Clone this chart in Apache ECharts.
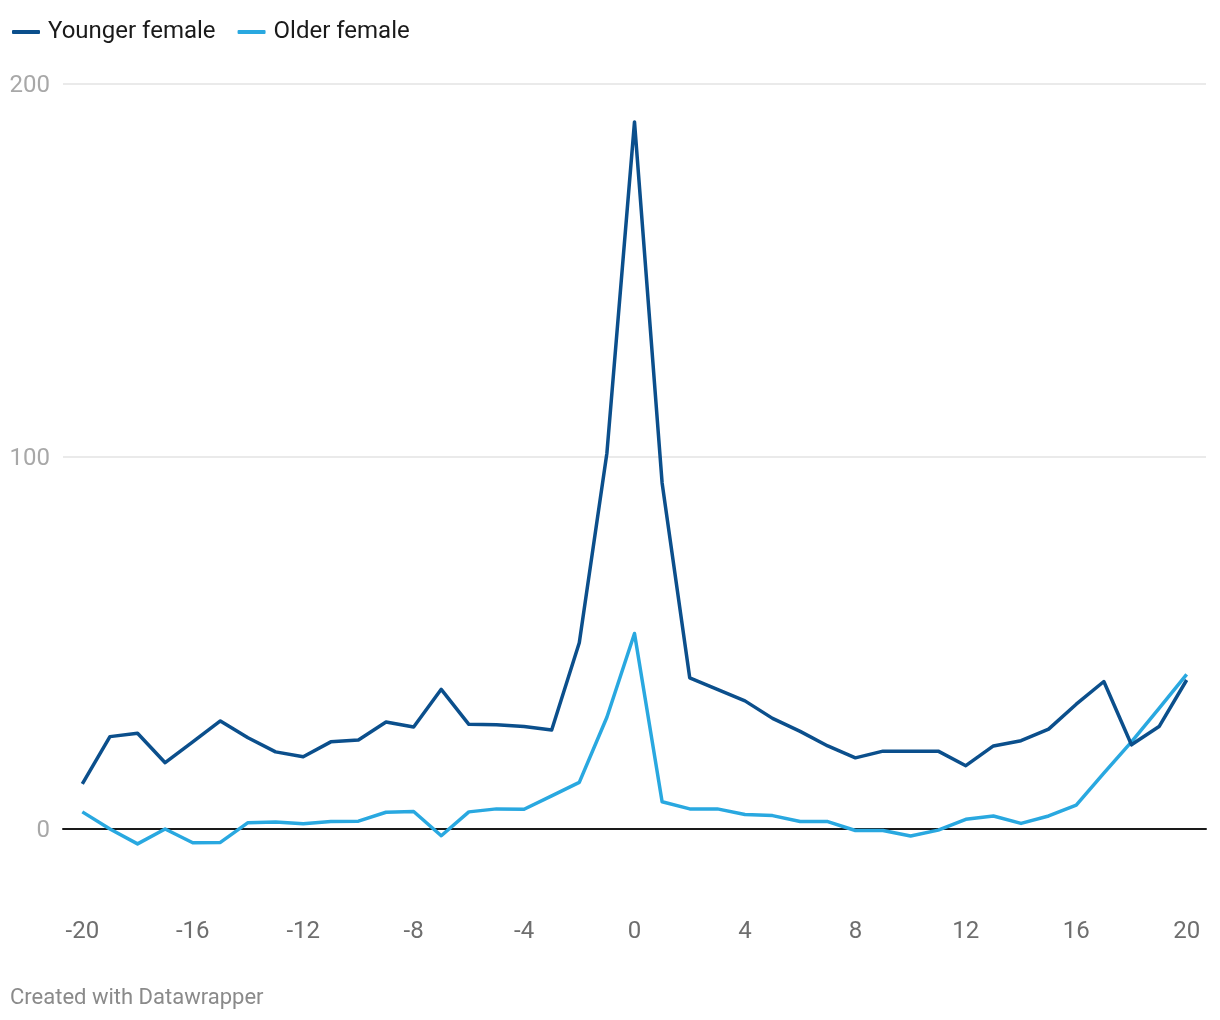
<!DOCTYPE html>
<html>
<head>
<meta charset="utf-8">
<script src="https://cdn.jsdelivr.net/npm/echarts@6/dist/echarts.min.js"></script>
<style>
html,body{margin:0;padding:0;background:#fff;}
#chart{width:1220px;height:1020px;}
</style>
</head>
<body>
<div id="chart"></div>
<script>
const xValues = [-20,-19,-18,-17,-16,-15,-14,-13,-12,-11,-10,-9,-8,-7,-6,-5,-4,-3,-2,-1,0,1,2,3,4,5,6,7,8,9,10,11,12,13,14,15,16,17,18,19,20];
const youngerFemale = [12.1,24.8,25.7,17.8,23.4,29.0,24.5,20.7,19.4,23.4,23.9,28.7,27.4,37.5,28.1,28.0,27.5,26.6,50.0,100.9,189.8,92.9,40.6,37.5,34.4,29.7,26.2,22.3,19.1,20.9,20.9,20.9,17.0,22.3,23.7,26.8,33.5,39.6,22.6,27.5,40.0];
const olderFemale = [4.6,0.0,-4.0,0.0,-3.7,-3.6,1.7,1.9,1.4,2.0,2.1,4.5,4.7,-1.8,4.6,5.4,5.3,8.9,12.5,30.0,52.5,7.3,5.4,5.4,3.9,3.6,2.0,2.0,-0.4,-0.4,-1.9,-0.3,2.6,3.5,1.5,3.5,6.4,15.0,23.4,32.4,41.5];
const xTickLabels = [-20,-16,-12,-8,-4,0,4,8,12,16,20];
const seriesNames = ['Younger female','Older female'];
const seriesColors = ['#0b4f8c','#29a8e0'];

const chart = echarts.init(document.getElementById('chart'), null, {renderer:'canvas'});
const font = 'Roboto, "Noto Sans", sans-serif';
const pair = arr => xValues.map((x,i)=>[x,arr[i]]);

chart.setOption({
  animation:false,
  backgroundColor:'#fff',
  textStyle:{fontFamily:font},
  legend:{
    left:7, top:15,
    itemWidth:28, itemHeight:4, itemGap:22,
    icon:'roundRect',
    textStyle:{fontSize:24, color:'#1a1a1a', fontFamily:font, padding:[0,0,0,3]},
    data:seriesNames
  },
  graphic:[{
    type:'text', left:10, top:987,
    style:{text:'Created with Datawrapper', fill:'#8a8a8a', font:'22px '+font}
  }],
  grid:{left:63, right:14, top:84, bottom:191, containLabel:false},
  xAxis:{
    type:'value', min:-20.7, max:20.7,
    axisLine:{show:true, onZero:true, lineStyle:{color:'#1a1a1a', width:2}},
    axisTick:{show:false},
    splitLine:{show:false},
    axisLabel:{customValues:xTickLabels, margin:91, fontSize:24, color:'#6e6e6e', fontFamily:font}
  },
  yAxis:{
    type:'value', min:0, max:200, interval:100,
    axisLine:{show:false}, axisTick:{show:false},
    splitLine:{show:true, lineStyle:{color:'#e3e3e3', width:1.5}},
    axisLabel:{margin:13, fontSize:24, color:'#a8a8a8', fontFamily:font,
      verticalAlign:'top', lineHeight:24, padding:[-10,0,0,0]}
  },
  series:[
    {name:seriesNames[0], type:'line', data:pair(youngerFemale), clip:false,
     showSymbol:false, symbol:'none', color:seriesColors[0],
     lineStyle:{width:3.5, color:seriesColors[0], join:'round'}, z:3},
    {name:seriesNames[1], type:'line', data:pair(olderFemale), clip:false,
     showSymbol:false, symbol:'none', color:seriesColors[1],
     lineStyle:{width:3.5, color:seriesColors[1], join:'round'}, z:2}
  ]
});
</script>
</body>
</html>
